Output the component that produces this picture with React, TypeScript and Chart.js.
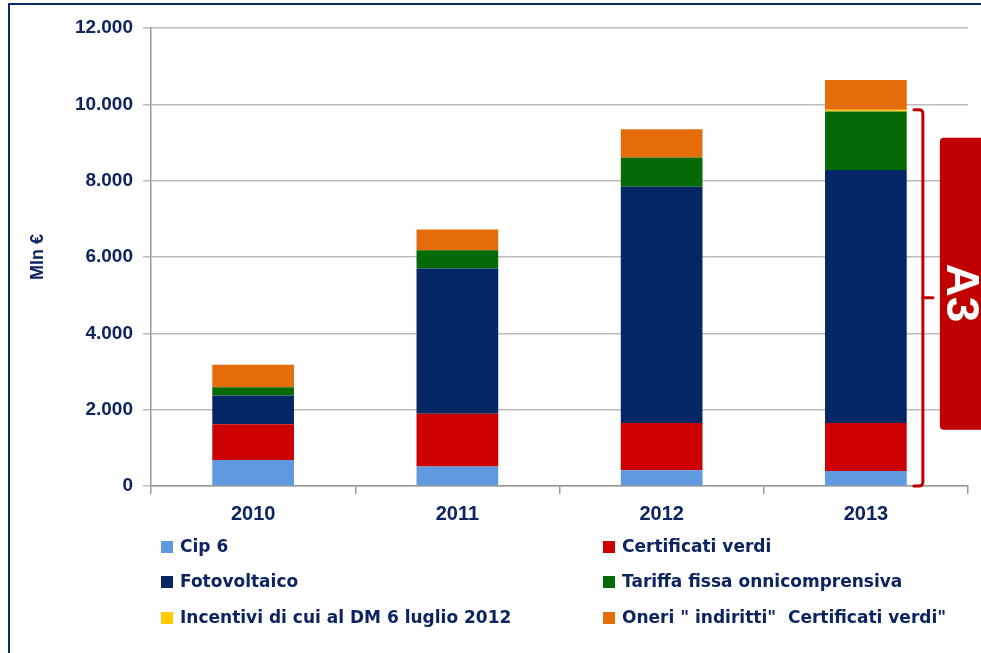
import React, { useEffect, useRef } from "react";
import { Chart, registerables } from "chart.js";

Chart.register(...registerables);

const categories = ["2010", "2011", "2012", "2013"];
const cip6 = [680, 510, 410, 390];
const certificatiVerdi = [940, 1380, 1240, 1260];
const fotovoltaico = [750, 3810, 6190, 6630];
const tariffaFissa = [220, 480, 770, 1530];
const incentiviDM = [0, 0, 0, 50];
const oneriIndiretti = [590, 540, 740, 780];
const yTickValues = [0, 2000, 4000, 6000, 8000, 10000, 12000];
const yTickLabels = ["0", "2.000", "4.000", "6.000", "8.000", "10.000", "12.000"];

const seriesNames = [
  "Cip 6",
  "Certificati verdi",
  "Fotovoltaico",
  "Tariffa fissa onnicomprensiva",
  "Incentivi di cui al DM 6 luglio 2012",
  "Oneri \" indiritti\"  Certificati verdi\"",
];
const seriesColors = ["#5f9ae0", "#cc0000", "#062766", "#066b06", "#ffcc00", "#e46c0a"];

const NAVY = "#0c2460";
const FONT = "'Liberation Sans', Arial, sans-serif";
const LEGEND_FONT = "'DejaVu Sans', sans-serif";

const decorPlugin = {
  id: "decor",
  afterDraw(chart: any) {
    const ctx = chart.ctx;
    const y = chart.scales.y;
    const x = chart.scales.x;
    ctx.save();
    // frame
    ctx.strokeStyle = "#0b2a6a";
    ctx.lineWidth = 2;
    ctx.strokeRect(9, 4, 1100, 1000);

    // bracket for A3
    const last = categories.length - 1;
    const topVal =
      cip6[last] + certificatiVerdi[last] + fotovoltaico[last] + tariffaFissa[last] + incentiviDM[last];
    const yTop = y.getPixelForValue(topVal);
    const yBot = y.getPixelForValue(0);
    const xBar = x.getPixelForValue(last);
    const bx = xBar + 57;
    const r = 4;
    ctx.strokeStyle = "#c00000";
    ctx.lineWidth = 3;
    ctx.lineCap = "round";
    ctx.beginPath();
    ctx.moveTo(bx - 9, yTop);
    ctx.lineTo(bx - r, yTop);
    ctx.quadraticCurveTo(bx, yTop, bx, yTop + r);
    ctx.lineTo(bx, yBot - r);
    ctx.quadraticCurveTo(bx, yBot, bx - r, yBot);
    ctx.lineTo(bx - 9, yBot);
    ctx.stroke();
    const yMid = (yTop + yBot) / 2;
    ctx.beginPath();
    ctx.moveTo(bx, yMid);
    ctx.lineTo(bx + 10, yMid);
    ctx.stroke();

    // red box
    const boxX = bx + 17;
    const boxTop = yMid - 160;
    const boxBot = yMid + 132;
    ctx.fillStyle = "#c00000";
    ctx.beginPath();
    ctx.roundRect(boxX, boxTop, 80, boxBot - boxTop, 4);
    ctx.fill();
    ctx.save();
    ctx.translate(boxX + 20, yMid - 5);
    ctx.rotate(Math.PI / 2);
    ctx.fillStyle = "#ffffff";
    ctx.font = `bold 46px ${FONT}`;
    ctx.textAlign = "center";
    ctx.textBaseline = "middle";
    ctx.fillText("A3", 0, 0);
    ctx.restore();

    // legend
    const colX = [161, 603];
    const rowY = [547, 582, 618];
    ctx.font = `bold 17px ${LEGEND_FONT}`;
    ctx.textBaseline = "middle";
    ctx.textAlign = "left";
    chart.data.datasets.forEach((ds: any, i: number) => {
      const cx = colX[i % 2];
      const cy = rowY[Math.floor(i / 2)];
      ctx.fillStyle = ds.backgroundColor;
      ctx.fillRect(cx, cy - 6, 12, 12);
      ctx.fillStyle = NAVY;
      ctx.fillText(ds.label, cx + 19, cy + 1);
    });
    ctx.restore();
  },
};

export default function App() {
  const ref = useRef<HTMLCanvasElement>(null);
  useEffect(() => {
    document.body.style.margin = "0";
    const seriesData = [cip6, certificatiVerdi, fotovoltaico, tariffaFissa, incentiviDM, oneriIndiretti];
    const chart = new Chart(ref.current!, {
      type: "bar",
      data: {
        labels: categories,
        datasets: seriesData.map((d, i) => ({
          label: seriesNames[i],
          data: d,
          backgroundColor: seriesColors[i],
          borderWidth: 0,
          barPercentage: 0.4,
          categoryPercentage: 1,
        })),
      },
      options: {
        animation: false,
        responsive: false,
        layout: { padding: { top: 28, right: 13, bottom: 117, left: 0 } },
        plugins: { legend: { display: false }, tooltip: { enabled: false } },
        scales: {
          x: {
            stacked: true,
            grid: { offset: true, drawOnChartArea: false, drawTicks: true, tickLength: 8, color: "#999999", lineWidth: 1.5 },
            border: { color: "#999999", width: 1.5 },
            ticks: { font: { family: FONT, size: 20, weight: "bold" }, color: NAVY, padding: 8 },
            afterFit: (s: any) => {
              s.height = 50;
            },
          },
          y: {
            stacked: true,
            min: 0,
            max: 12000,
            afterBuildTicks: (s: any) => {
              s.ticks = yTickValues.map((v) => ({ value: v }));
            },
            ticks: {
              callback: (v: any) => yTickLabels[yTickValues.indexOf(Number(v))],
              font: { family: FONT, size: 19, weight: "bold" },
              color: NAVY,
              padding: 10,
            },
            grid: { color: "#bbbbbb", tickLength: 8, lineWidth: 1.5 },
            border: { color: "#999999", width: 1.5 },
            title: {
              display: true,
              text: "Mln €",
              font: { family: FONT, size: 18, weight: "bold" },
              color: NAVY,
              padding: { top: 27, bottom: 0 },
            },
            afterFit: (s: any) => {
              s.width = 151;
            },
          },
        },
      } as any,
      plugins: [decorPlugin],
    });
    return () => chart.destroy();
  }, []);
  return (
    <div style={{ position: "absolute", left: 0, top: 0, width: 981, height: 653, background: "#fff" }}>
      <canvas ref={ref} width={981} height={653} style={{ display: "block" }} />
    </div>
  );
}
